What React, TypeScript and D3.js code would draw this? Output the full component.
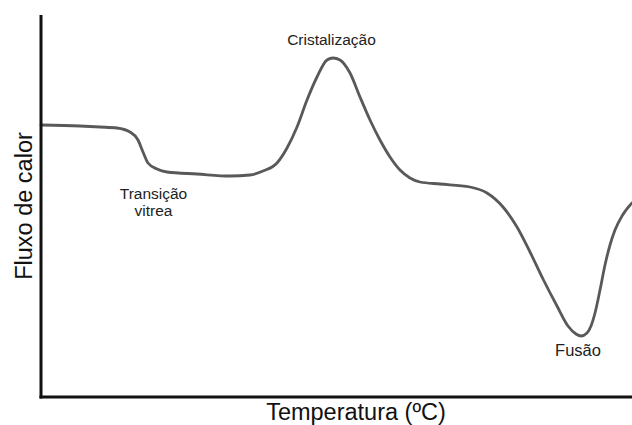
import React from "react";
import * as d3 from "d3";

// DSC thermogram: heat flow vs temperature (arbitrary units)
const temperature = [
  0, 7.8, 11.8, 15.2, 17.8, 19.4, 20.4, 21.4, 23.2, 25.2, 31.2, 37.8, 41.8, 44.4,
  47.2, 49.2, 51.2, 53.2, 55.2, 57.2, 58.4, 59.8, 61.8, 63.8, 65.8, 67.8, 69.8,
  71.8, 73.8, 75.8, 79.8, 85.8, 89.2, 92.4, 95.2, 97.8, 100.4, 103.2, 105.4,
  107.0, 108.0, 109.2, 110.0, 110.8, 111.8, 112.8, 113.8, 114.8, 116.2, 118.2,
];
const heatFlow = [
  54.4, 54.2, 54.0, 53.8, 53.0, 51.4, 49.0, 46.8, 45.6, 45.0, 44.6, 44.2, 44.4,
  45.2, 46.8, 49.8, 54.0, 59.4, 64.0, 67.4, 67.8, 67.4, 64.8, 60.0, 55.4, 51.4,
  48.0, 45.4, 43.8, 43.0, 42.6, 42.0, 40.8, 38.0, 34.0, 29.0, 23.6, 18.2, 14.2,
  12.6, 12.2, 12.8, 14.2, 16.8, 21.4, 26.4, 30.4, 33.4, 36.2, 38.8,
];

// Thermal events marked on the curve
const annotations = [
  { lines: ["Cristalização"], t: 58.1, h: 70.4, size: 15.5 },
  { lines: ["Transição", "vitrea"], t: 22.5, h: 39.6, size: 15.5 },
  { lines: ["Fusão"], t: 107.4, h: 8.2, size: 16.5 },
];

const xTitle = "Temperatura (ºC)";
const yTitle = "Fluxo de calor";

const W = 632;
const H = 425;
const left = 41;
const right = 632;
const top = 15;
const bottom = 397;

export default function App() {
  const x = d3.scaleLinear().domain([0, 118.2]).range([left, right]);
  const y = d3.scaleLinear().domain([0, 76.4]).range([bottom, top]);

  const pts = temperature.map((t, i) => [t, heatFlow[i]] as [number, number]);
  const line = d3
    .line<[number, number]>()
    .x((d) => x(d[0]))
    .y((d) => y(d[1]))
    .curve(d3.curveMonotoneX);

  const font = "'Liberation Sans', Arial, sans-serif";

  return (
    <svg
      width={W}
      height={H}
      style={{ position: "absolute", left: 0, top: 0, background: "#fff" }}
    >
      <path
        d={line(pts) ?? ""}
        fill="none"
        stroke="#595959"
        strokeWidth={2.8}
        strokeLinejoin="round"
        strokeLinecap="round"
      />
      {/* axes */}
      <line x1={left} x2={left} y1={top} y2={bottom + 1.5} stroke="#111" strokeWidth={3} />
      <line x1={left - 1.5} x2={right} y1={bottom} y2={bottom} stroke="#111" strokeWidth={3} />

      {annotations.map((a, i) => (
        <text
          key={i}
          x={x(a.t)}
          y={y(a.h)}
          textAnchor="middle"
          fontFamily={font}
          fontSize={a.size}
          fill="#222"
        >
          {a.lines.map((l, j) => (
            <tspan key={j} x={x(a.t)} dy={j === 0 ? 0 : 17}>
              {l}
            </tspan>
          ))}
        </text>
      ))}

      <text x={356} y={420} textAnchor="middle" fontFamily={font} fontSize={23.5} fill="#111">
        {xTitle}
      </text>
      <text
        transform={`translate(31.5,206) rotate(-90)`}
        textAnchor="middle"
        fontFamily={font}
        fontSize={23.5}
        fill="#111"
      >
        {yTitle}
      </text>
    </svg>
  );
}
